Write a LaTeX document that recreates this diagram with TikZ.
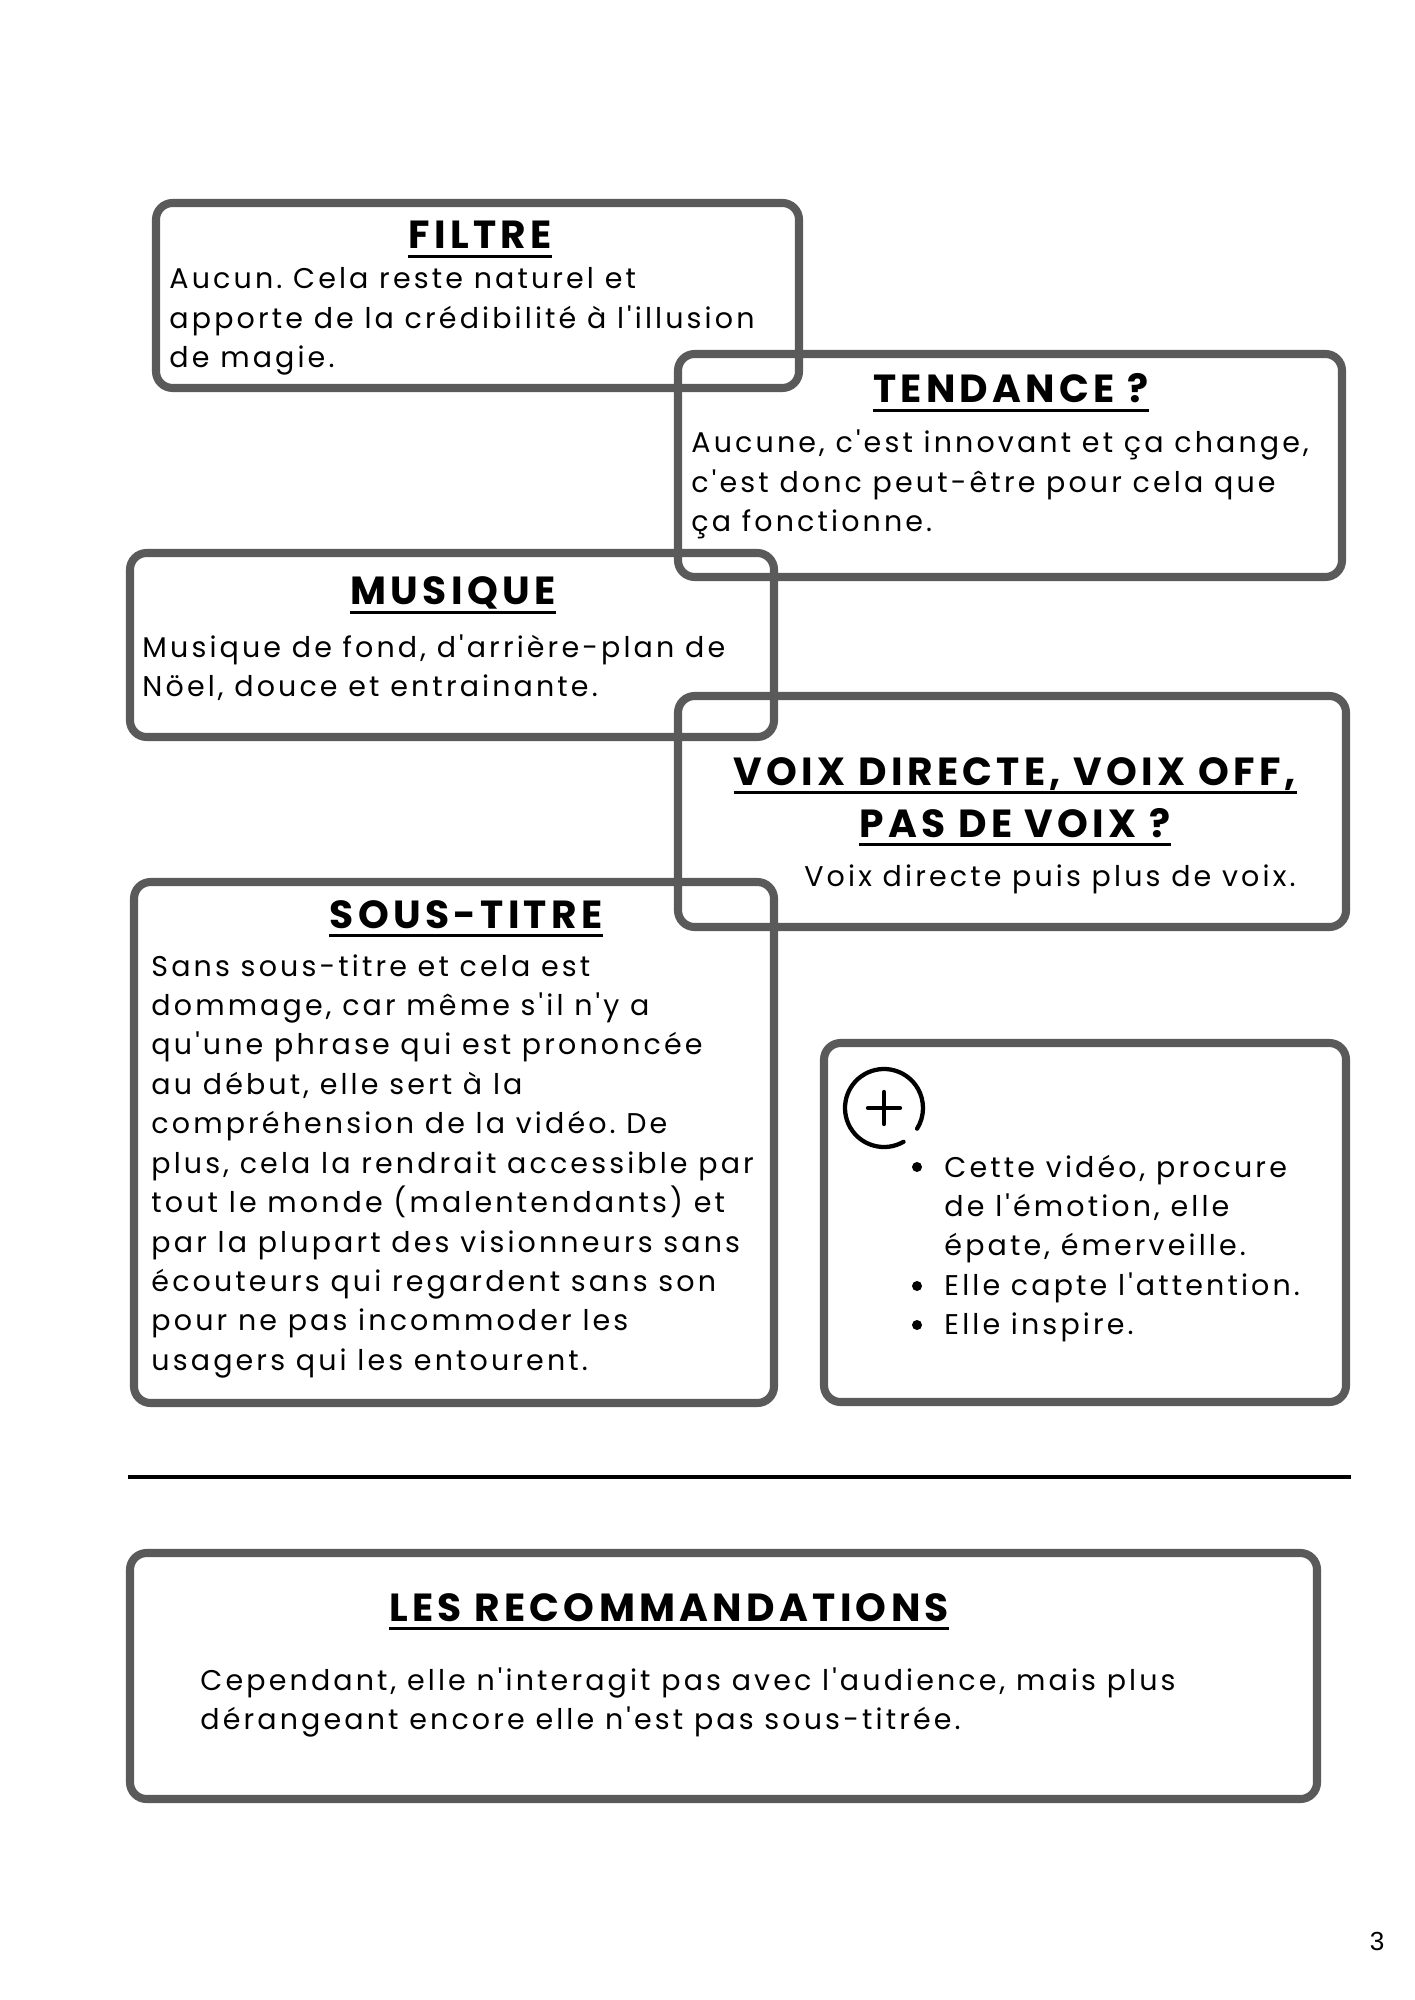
\documentclass[tikz,border=0pt]{standalone}
\usepackage{fontspec}
\setmainfont{Poppins}
\newfontfamily\bodyf{Poppins}[LetterSpace=11]
\newfontfamily\headf{Poppins}[LetterSpace=11]
\newfontfamily\pagef{Liberation Sans}
\definecolor{boxgray}{HTML}{5A5A5A}
\newcommand{\bodytext}[1]{\parbox[t]{600pt}{\raggedright\frenchspacing\bodyf\fontsize{12}{16.6}\selectfont #1}}
\begin{document}
\begin{tikzpicture}[x=0.42101pt,y=-0.42101pt,
  card/.style={draw=boxgray, line width=3.4pt, rounded corners=7pt},
  head/.style={anchor=base, inner sep=0pt, font=\headf\bfseries\fontsize{16.5}{19}\selectfont},
  body/.style={anchor=base west, inner sep=0pt},
  uline/.style={line width=1.3pt, black},
  icon/.style={line width=1.8pt, line cap=round}]
\useasboundingbox (0,0) rectangle (1414,2000);
\fill[white] (0,0) rectangle (1414,2000);
% boxes
\draw[card] (156,203) rectangle (799,388);
\draw[card] (678,354) rectangle (1342,577);
\draw[card] (130,553) rectangle (774,737);
\draw[card] (678,696) rectangle (1346,927);
\draw[card] (134,882) rectangle (774,1403);
\draw[card] (824,1043) rectangle (1346,1402);
\draw[card] (130,1553) rectangle (1317,1799);
\draw[line width=1.3pt] (128,1477) coordinate (la) -- (1351,1477) coordinate (lb);
% headings
\node[head] (h1) at (480,249) {FILTRE};
\node[head] (h2) at (1011,403) {TENDANCE ?};
\node[head] (h3) at (453,605) {MUSIQUE};
\node[head] (h4a) at (1015,785) {VOIX DIRECTE, VOIX OFF,};
\node[head] (h4b) at (1015,837) {PAS DE VOIX ?};
\node[head] (h5) at (466,928) {SOUS-TITRE};
\node[head] (h6) at (669,1621) {LES RECOMMANDATIONS};
\foreach \h in {h1,h2,h3,h4a,h4b,h5,h6}{
  \draw[uline] ([yshift=-3pt]\h.base west) -- ([yshift=-3pt]\h.base east);
}
% bodies
\node[body] (b1) at (169,289) {\bodytext{Aucun. Cela reste naturel et\\apporte de la crédibilité à l'illusion\\de magie.}};
\node[body] (b2) at (691,453) {\bodytext{Aucune, c'est innovant et ça change,\\c'est donc peut-être pour cela que\\ça fonctionne.}};
\node[body] (b3) at (142,657) {\bodytext{Musique de fond, d'arrière-plan de\\Nöel, douce et entrainante.}};
\node[anchor=base east, inner sep=0pt, font=\bodyf\fontsize{12}{16.6}\selectfont] (b4) at (1296,886) {Voix directe puis plus de voix.};
\node[body] (b5) at (151,976) {\bodytext{Sans sous-titre et cela est\\dommage, car même s'il n'y a\\qu'une phrase qui est prononcée\\au début, elle sert à la\\compréhension de la vidéo. De\\plus, cela la rendrait accessible par\\tout le monde (malentendants) et\\par la plupart des visionneurs sans\\écouteurs qui regardent sans son\\pour ne pas incommoder les\\usagers qui les entourent.}};
% plus icon (y axis points down, so angles are mirrored)
\coordinate (pc) at (884,1108);
\draw[icon] (pc) ++(60:39) arc[start angle=60, end angle=392, radius=39];
\draw[icon] (884,1092) -- (884,1124);
\draw[icon] (868,1108) -- (900,1108);
\node[body] (p1) at (944,1177) {\bodytext{Cette vidéo, procure\\de l'émotion, elle\\épate, émerveille.\\Elle capte l'attention.\\Elle inspire.}};
\foreach \yy/\nm in {1167/d1,1286/d2,1325/d3}{
  \fill (917,\yy) circle[radius=5] coordinate (\nm);
}
\node[body] (r1) at (200,1690) {\bodytext{Cependant, elle n'interagit pas avec l'audience, mais plus\\dérangeant encore elle n'est pas sous-titrée.}};
\node[anchor=base, inner sep=0pt, font=\pagef\fontsize{11}{13}\selectfont] (pg) at (1377,1950) {3};
\end{tikzpicture}
\end{document}
